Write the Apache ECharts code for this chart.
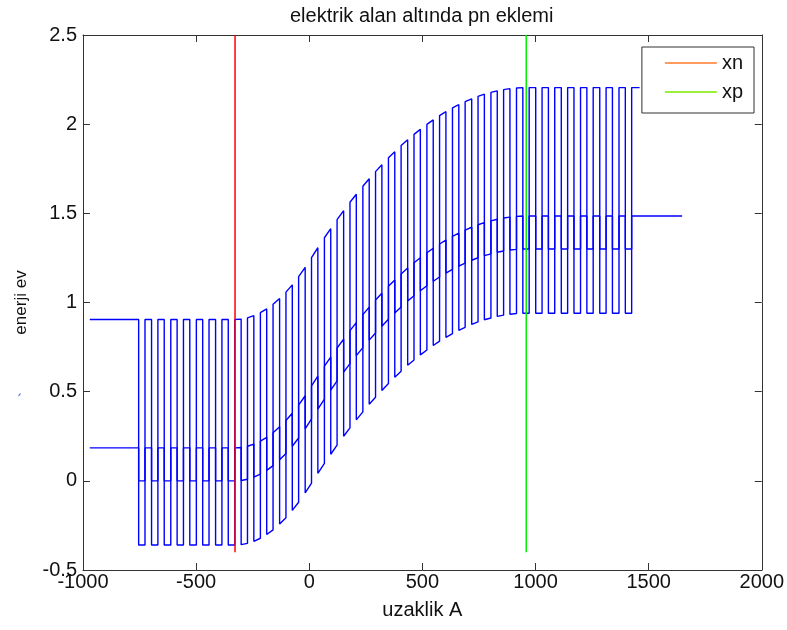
<!DOCTYPE html>
<html><head><meta charset="utf-8">
<script src="https://cdn.jsdelivr.net/npm/echarts@6/dist/echarts.min.js"></script>
<style>html,body{margin:0;padding:0;background:#fff}#chart{width:787px;height:630px}</style>
</head><body><div id="chart"></div>
<script>
// x positions (A) of the vertical edges of the drawn pattern
const edgeX = [-754,-726,-697,-669,-641,-612,-584,-556,-528,-499,
  -471,-443,-414,-386,-358,-329,-301,-273,-245,-216,
  -188,-160,-131,-103,-75,-47,-18,10,38,67,
  95,123,152,180,208,237,265,293,321,350,
  378,406,435,463,491,520,548,576,604,633,
  661,689,718,746,774,803,831,859,887,916,
  944,972,1001,1029,1057,1085,1114,1142,1170,1199,
  1227,1255,1284,1312,1340,1369,1397,1425];
// conduction band edge (eV) at each edge
const bandTop = [0.905,0.905,0.905,0.905,0.905,0.905,0.905,0.905,0.905,0.905,
  0.905,0.905,0.905,0.905,0.905,0.905,0.907,0.914,0.926,0.943,
  0.964,0.990,1.023,1.058,1.099,1.145,1.197,1.252,1.307,1.363,
  1.414,1.465,1.515,1.562,1.607,1.652,1.694,1.734,1.772,1.811,
  1.846,1.880,1.913,1.943,1.971,1.999,2.024,2.048,2.070,2.091,
  2.109,2.126,2.142,2.156,2.168,2.178,2.187,2.194,2.199,2.203,
  2.205,2.205,2.205,2.205,2.205,2.205,2.205,2.205,2.205,2.205,
  2.205,2.205,2.205,2.205,2.205,2.205,2.205,2.205];
// valence band edge (eV)
const bandBottom = [-0.360,-0.360,-0.360,-0.360,-0.360,-0.360,-0.360,-0.360,-0.360,-0.360,
  -0.360,-0.360,-0.360,-0.360,-0.360,-0.360,-0.358,-0.351,-0.339,-0.322,
  -0.301,-0.275,-0.242,-0.207,-0.166,-0.120,-0.068,-0.013,0.042,0.098,
  0.149,0.200,0.250,0.297,0.342,0.387,0.429,0.469,0.507,0.546,
  0.581,0.615,0.648,0.678,0.706,0.734,0.759,0.783,0.805,0.826,
  0.844,0.861,0.877,0.891,0.903,0.913,0.922,0.929,0.934,0.938,
  0.940,0.940,0.940,0.940,0.940,0.940,0.940,0.940,0.940,0.940,
  0.940,0.940,0.940,0.940,0.940,0.940,0.940,0.940];
// upper intermediate level (eV)
const levelUpper = [0.185,0.185,0.185,0.185,0.185,0.185,0.185,0.185,0.185,0.185,
  0.185,0.185,0.185,0.185,0.185,0.185,0.187,0.194,0.206,0.223,
  0.244,0.270,0.303,0.338,0.379,0.425,0.477,0.532,0.587,0.643,
  0.694,0.745,0.795,0.842,0.887,0.932,0.974,1.014,1.052,1.091,
  1.126,1.160,1.193,1.223,1.251,1.279,1.304,1.328,1.350,1.371,
  1.389,1.406,1.422,1.436,1.448,1.458,1.467,1.474,1.479,1.483,
  1.485,1.485,1.485,1.485,1.485,1.485,1.485,1.485,1.485,1.485,
  1.485,1.485,1.485,1.485,1.485,1.485,1.485,1.485];
// lower intermediate level (eV)
const levelLower = [0.000,0.000,0.000,0.000,0.000,0.000,0.000,0.000,0.000,0.000,
  0.000,0.000,0.000,0.000,0.000,0.000,0.002,0.009,0.021,0.038,
  0.059,0.085,0.118,0.153,0.194,0.240,0.292,0.347,0.402,0.458,
  0.509,0.560,0.610,0.657,0.702,0.747,0.789,0.829,0.867,0.906,
  0.941,0.975,1.008,1.038,1.066,1.094,1.119,1.143,1.165,1.186,
  1.204,1.221,1.237,1.251,1.263,1.273,1.282,1.289,1.294,1.298,
  1.300,1.300,1.300,1.300,1.300,1.300,1.300,1.300,1.300,1.300,
  1.300,1.300,1.300,1.300,1.300,1.300,1.300,1.300];
const startX = -970;      // left flat lines begin
const bandEndX = 1460;    // top line continues under legend
const levelEndX = 1648;   // right flat level line end
const xnPos = -328;
const xpPos = 959;
const markerY = [-0.4, 2.5];
const xRange = [-1000, 2000, 500];
const yRange = [-0.5, 2.5, 0.5];

function squareWave(xs, hi, lo, x0, x1) {
  const pts = [[x0, hi[0]]];
  for (let k = 0; k < xs.length; k++) {
    if (k % 2 === 0) { pts.push([xs[k], hi[k]], [xs[k], lo[k]]); }
    else { pts.push([xs[k], lo[k]], [xs[k], hi[k]]); }
  }
  pts.push([x1, hi[hi.length - 1]]);
  return pts;
}

const FONT = "'Liberation Sans', Arial, Helvetica, sans-serif";
const chart = echarts.init(document.getElementById('chart'), null, {renderer: 'canvas'});
function axisCommon() {
  return {
    axisLine: {show: true, onZero: false, lineStyle: {color: '#333', width: 1}},
    axisTick: {show: true, inside: true, length: 7, lineStyle: {color: '#333'}},
    splitLine: {show: false}
  };
}
const plain = v => String(v);
const blue = {color: '#0000ff', width: 1.4};
chart.setOption({
  animation: false,
  backgroundColor: '#fff',
  title: {
    text: 'elektrik alan altında pn eklemi', left: 285, top: 1,
    textStyle: {fontFamily: FONT, fontSize: 20, fontWeight: 'normal', color: '#111'}
  },
  grid: {left: 83, right: 25, top: 35, bottom: 60, containLabel: false},
  legend: {
    orient: 'vertical', right: 33, top: 47,
    padding: [6, 11, 11, 23], itemGap: 9, itemWidth: 52, itemHeight: 2,
    icon: 'rect',
    backgroundColor: '#fff', borderColor: '#333', borderWidth: 1, borderRadius: 0,
    textStyle: {fontFamily: FONT, fontSize: 20, color: '#111', lineHeight: 20},
    data: [
      {name: 'xn', itemStyle: {color: '#ff9a60'}},
      {name: 'xp', itemStyle: {color: '#9cf03c'}}
    ]
  },
  xAxis: [
    Object.assign({
      type: 'value', position: 'bottom', min: xRange[0], max: xRange[1], interval: xRange[2],
      name: 'uzaklik A', nameLocation: 'middle', nameGap: 30, nameMoveOverlap: false,
      nameTextStyle: {fontFamily: FONT, fontSize: 20, color: '#111'},
      axisLabel: {fontFamily: FONT, fontSize: 20, color: '#111', margin: 2, formatter: plain}
    }, axisCommon()),
    Object.assign({
      type: 'value', position: 'top', min: xRange[0], max: xRange[1], interval: xRange[2],
      axisLabel: {show: false}
    }, axisCommon())
  ],
  yAxis: [
    Object.assign({
      type: 'value', position: 'left', min: yRange[0], max: yRange[1], interval: yRange[2],
      name: 'enerji ev', nameLocation: 'middle', nameGap: 53, nameRotate: 90, nameMoveOverlap: false,
      nameTextStyle: {fontFamily: FONT, fontSize: 17, color: '#111'},
      axisLabel: {fontFamily: FONT, fontSize: 20, color: '#111', margin: 6, formatter: plain}
    }, axisCommon()),
    Object.assign({
      type: 'value', position: 'right', min: yRange[0], max: yRange[1], interval: yRange[2],
      axisLabel: {show: false}
    }, axisCommon())
  ],
  graphic: [{
    type: 'line', shape: {x1: 18.5, y1: 396, x2: 20.5, y2: 393.5},
    style: {stroke: '#5060f0', lineWidth: 1.2}, silent: true
  }],
  series: [
    {type: 'line', name: 'bands', data: squareWave(edgeX, bandTop, bandBottom, startX, bandEndX),
     symbol: 'none', lineStyle: blue, itemStyle: {color: '#0000ff'}, silent: true},
    {type: 'line', name: 'levels', data: squareWave(edgeX, levelUpper, levelLower, startX, levelEndX),
     symbol: 'none', lineStyle: blue, itemStyle: {color: '#0000ff'}, silent: true},
    {type: 'line', name: 'xn', data: [[xnPos, markerY[0]], [xnPos, markerY[1]]],
     symbol: 'none', lineStyle: {color: '#ff0000', width: 1.5}, itemStyle: {color: '#ff0000'}, silent: true},
    {type: 'line', name: 'xp', data: [[xpPos, markerY[0]], [xpPos, markerY[1]]],
     symbol: 'none', lineStyle: {color: '#00ee00', width: 1.5}, itemStyle: {color: '#00ee00'}, silent: true}
  ]
});
</script>
</body></html>
